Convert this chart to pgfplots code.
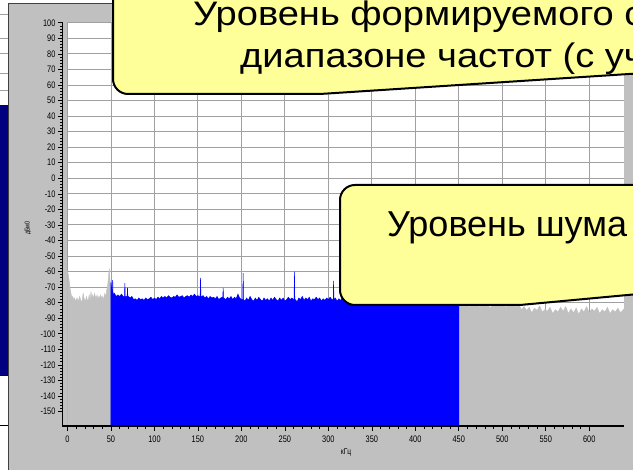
\documentclass[border=0pt]{standalone}
\usepackage{fontspec}
\setmainfont{Liberation Sans}
\newfontfamily\narrowfont[FakeStretch=0.78]{Liberation Sans}
\newfontfamily\widefont[FakeStretch=1.12]{Liberation Sans}
\usepackage{pgfplots}
\pgfplotsset{compat=1.18}
\definecolor{panel}{RGB}{192,192,192}
\definecolor{gridc}{RGB}{160,160,160}
\definecolor{specgray}{RGB}{192,192,192}
\definecolor{specblue}{RGB}{0,0,255}
\definecolor{navyc}{RGB}{0,0,128}
\definecolor{calloutc}{RGB}{255,255,153}
\begin{document}
\begin{tikzpicture}[x=1pt,y=1pt]
\useasboundingbox (0,0) rectangle (633,470);
\begin{scope}
\clip (0,0) rectangle (633,470);
\fill[white] (0,0) rectangle (633,470);
% partially visible window on the left
\foreach \yy in {456,432,417,397,380} {\draw[gridc,line width=0.8pt] (0,\yy) -- (8,\yy);}
\fill[navyc] (0,95) rectangle (8,365);
\draw[black,line width=0.8pt] (0,95) -- (8,95);
\draw[black,line width=0.8pt] (0,45) -- (8,45);
% panel
\fill[panel] (8,0) rectangle (633,467);
\draw[black!75, line width=0.8pt] (8,0) -- (8,467) -- (633,467);

\begin{axis}[
  at={(67.5pt,44pt)}, anchor=south west,
  width=556.5pt, height=404pt, scale only axis,
  xmin=0, xmax=640, ymin=-159.3, ymax=100.5,
  axis background/.style={fill=white},
  axis line style={draw=none},
  xtick={0,50,...,600}, minor x tick num=4,
  ytick={-150,-140,...,100}, yticklabels={},
  ytick style={draw=none},
  xtick pos=left, tick align=outside,
  xtick style={black, line width=0.6pt},
  major tick length=5pt, minor tick length=3pt,
  grid=major,
  major grid style={draw=gridc, line width=0.9pt},
  xticklabel style={font=\narrowfont\fontsize{9.5}{10}\selectfont, yshift=-1pt},
  /pgf/number format/assume math mode=true,
]
% gray spectrum 0-50 kHz
\addplot[draw=specgray, line width=0.4pt, fill=specgray] coordinates {
(0,-159.3) (0,-60) (1,-62) (2,-66) (3,-71) (4,-74) (5,-77) (6,-76) (7,-78) (8,-77)
(9,-79) (10,-78) (11,-77) (12,-79) (13,-78) (14,-76) (15,-78) (16,-80) (17,-78)
(18,-74) (19,-77) (20,-79) (21,-78) (22,-76) (23,-79) (24,-78) (25,-75) (26,-79)
(27,-73) (28,-77) (29,-75) (30,-78) (31,-74) (32,-76) (33,-77) (34,-75) (35,-78)
(36,-76) (37,-77) (38,-75) (39,-77) (40,-76) (41,-78) (42,-76) (43,-74) (44,-77)
(45,-72) (46,-70) (47,-64) (48,-58) (49,-66) (50,-75) (50,-159.3)
};
% gray spectrum 450-640 kHz
\addplot[draw=specgray, line width=0.4pt, fill=specgray] coordinates {
(450,-159.3) (450,-80) (453,-81) (456,-82) (459,-80.5) (462,-83) (465,-81) (468,-82.5)
(471,-80) (474,-83) (477,-81.5) (480,-82) (483,-80.5) (486,-83.5) (489,-81) (492,-82)
(495,-80) (498,-82.5) (501,-81) (504,-83) (507,-81.5) (510,-82) (513,-80.5) (516,-83)
(519,-81) (522,-84.5) (525,-82.5) (528,-85) (531,-83) (534,-86.5) (537,-83.5) (540,-85)
(543,-82) (546,-86) (549,-84.5) (552,-85.5) (555,-83) (558,-87) (561,-84.5) (564,-86)
(567,-83) (570,-85.5) (573,-82.5) (576,-87) (579,-84) (582,-86.5) (585,-83.5) (588,-87.5)
(591,-84) (594,-86) (597,-82.5) (600,-86.5) (603,-84) (606,-85.5) (609,-83) (612,-87)
(615,-84.5) (618,-86) (621,-83) (624,-87) (627,-84.5) (630,-86) (633,-83.5) (636,-86.5)
(640,-84) (640,-159.3)
};
% blue (generated signal) 50-450 kHz
\addplot[draw=specblue, line width=0.5pt, fill=specblue] coordinates {
(50,-159.3) (50,-67) (51.6,-75) (52,-65.5) (52.4,-75) (54,-74) (56,-76) (58,-75)
(60,-76) (62,-74.5) (64,-76) (65.6,-76) (66,-67.5) (66.4,-76) (68.6,-76) (69,-70.5)
(69.4,-76) (70,-76) (72,-77) (74,-76) (76,-78) (78,-77.5) (80,-78.5) (82,-77) (84,-78)
(86,-77.5) (88,-78.5) (90,-77) (92,-78) (94,-77.5) (96,-76.5) (98,-78) (100,-77)
(102,-78) (104,-76.5) (106,-77.5) (108,-76) (110,-77) (112,-76) (114,-77) (116,-75.5)
(118,-76.5) (120,-77) (122,-76) (124,-76.5) (126,-75) (128,-76.5) (130,-76) (132,-75.5)
(134,-77) (136,-76) (138,-75.5) (140,-76.5) (142,-75) (144,-76) (146,-74.5) (148,-76)
(150,-75.5) (152,-76) (152.6,-76) (153,-64) (153.4,-76) (154,-76) (156,-75.5) (158,-77)
(160,-76) (162,-77.5) (164,-76) (166,-77) (168,-76.5) (170,-77.5) (172,-76) (174,-78)
(176,-77) (178,-76.5) (178.6,-77) (179,-70.5) (179.4,-77) (180,-77) (182,-78)
(184,-76.5) (186,-77.5) (188,-76) (190,-78) (192,-76.5) (194,-77.5) (196,-74.5)
(198,-77) (200,-78) (201.6,-78) (202,-61) (202.4,-78) (204,-79) (206,-77) (208,-78.5)
(210,-76) (212,-78) (214,-79) (216,-77) (218,-78.5) (220,-76.5) (222,-78) (224,-79)
(226,-77) (228,-78.5) (230,-77.5) (232,-79) (234,-77) (236,-78.5) (238,-76.5) (240,-78)
(242,-79) (244,-77) (246,-78.5) (248,-77) (250,-79) (252,-78) (254,-76.5) (256,-78)
(258,-77) (260,-78) (260.6,-78) (261,-60) (261.4,-78) (262,-78) (264,-79.5) (266,-77)
(268,-78) (270,-76) (272,-78.5) (274,-77) (276,-78) (278,-76.5) (280,-79) (282,-77.5)
(284,-78) (286,-76.5) (288,-78) (290,-77) (292,-79) (294,-77.5) (296,-78.5) (298,-77)
(300,-78) (302,-76.5) (304,-78) (305.6,-78) (306,-66) (306.4,-78) (308,-77) (310,-79)
(312,-77.5) (314,-78.5) (316,-77) (318,-78) (320,-76.5) (322,-78) (324,-77) (326,-79)
(328,-77.5) (330,-78) (332,-76.5) (334,-78.5) (336,-77) (338,-78) (340,-77.5) (342,-79)
(344,-77) (346,-78) (348,-76.5) (350,-78) (354,-77) (358,-78.5) (362,-77) (366,-79)
(370,-77.5) (374,-78) (378,-76.5) (382,-78.5) (386,-77) (390,-79) (394,-77.5) (398,-78)
(402,-77) (406,-79) (410,-77.5) (414,-78.5) (418,-77) (422,-79) (426,-78) (430,-77)
(434,-78.5) (438,-77.5) (442,-79) (446,-78) (450,-78.5) (450,-159.3)
};
\end{axis}

% y axis (offset to the left of the plot area)
\begin{axis}[
  at={(62pt,44pt)}, anchor=south west,
  width=5pt, height=404pt, scale only axis,
  xmin=0, xmax=1, ymin=-159.3, ymax=100.5,
  hide x axis,
  axis y line*=left,
  y axis line style={-, black, line width=0.9pt},
  ytick={-150,-140,...,100}, minor y tick num=4,
  tick align=outside,
  ytick style={black, line width=0.6pt},
  major tick length=4pt, minor tick length=2pt,
  yticklabel style={font=\narrowfont\fontsize{9.5}{10}\selectfont, xshift=1pt},
  /pgf/number format/assume math mode=true,
]
\addplot[draw=none] coordinates {(0,0)};
\end{axis}

% x axis line
\draw[black, line width=1.6pt] (62,44) -- (624,44);

\node[rotate=90, font=\narrowfont\fontsize{7}{8}\selectfont] at (28,242) {дБм0};
\node[font=\narrowfont\fontsize{8.5}{9}\selectfont] at (346,18) {кГц};

% callouts
\draw[black, line width=2pt, fill=calloutc]
  (113,485) -- (113,391) arc[start angle=180, end angle=270, radius=15] -- (320,376)
  -- (660,398) -- (660,485) -- cycle;
\node[anchor=base west, inner sep=0pt, font=\widefont\fontsize{34}{40}\selectfont] at (193,444) {Уровень формируемого сигнала в};
\node[anchor=base west, inner sep=0pt, font=\widefont\fontsize{34}{40}\selectfont] at (240,402) {диапазоне частот (с учетом};

\draw[black, line width=2pt, fill=calloutc]
  (660,285) -- (355,285) arc[start angle=90, end angle=180, radius=15] -- (340,180)
  arc[start angle=180, end angle=270, radius=15] -- (520,165) -- (660,178) -- cycle;
\node[anchor=base west, inner sep=0pt, font=\fontsize{36}{42}\selectfont] at (387,233) {Уровень шума};
\end{scope}
\end{tikzpicture}
\end{document}
